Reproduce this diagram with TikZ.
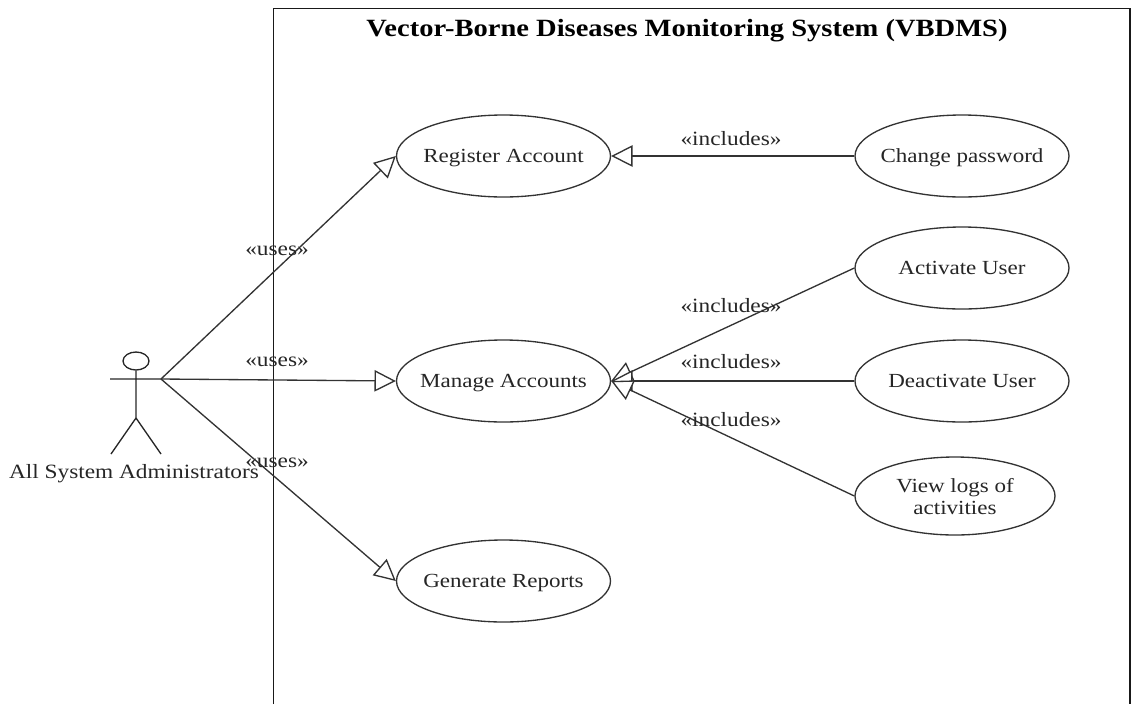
\documentclass[tikz,border=0pt]{standalone}
\usepackage{fontspec}
\setmainfont{Liberation Serif}[FakeStretch=1.15]
\usetikzlibrary{arrows.meta,positioning,shapes.geometric}
\tikzset{
    usecase/.style = {ellipse,
                    fill=white,
                    draw=black!80,
                    text=black!85,
                    line width=1pt,
                    minimum width=160.5pt,
                    minimum height=61.5pt,
                    inner xsep=-25pt,
                    inner ysep=0pt,
                    text depth=0pt,
                    align=center,
                    font=\fontsize{15}{16.5}\selectfont},
    stereo/.style = {text=black!85,
                    inner sep=0pt,
                    font=\fontsize{15.2}{17}\selectfont},
    actorline/.style = {draw=black!85,line width=1pt},
    gen/.style = {draw=black!80,line width=1pt,-{Triangle[open,fill=white,length=16pt,width=16pt]}},
    node distance=2cm}

\begin{document}
\begin{tikzpicture}[x=0.75pt,y=-0.75pt]
    \useasboundingbox (0,0) rectangle (1132,704);

    % system boundary
    \coordinate (tl) at (273.5,8.5);
    \coordinate (tr) at (1130,8.5);
    \coordinate (bl) at (273.5,704);
    \coordinate (br) at (1130,704);
    \draw [line width=1pt,black!90] (bl) -- (tl) -- (tr) -- (br);
    \node (title) at (687,31) {\fontsize{18.6}{20}\selectfont\bfseries Vector-Borne Diseases Monitoring System (VBDMS)};

    % use cases
    \node[usecase] (reg) at (503.5,156) {Register Account};
    \node[usecase] (man) [below of=reg,node distance=168.75pt] {Manage Accounts};
    \node[usecase] (rep) [below of=man,node distance=150pt] {Generate Reports};
    \node[usecase] (chg) at (962,156) {Change password};
    \node[usecase] (act) [below of=chg,node distance=84pt] {Activate User};
    \node[usecase] (dea) [below of=act,node distance=84.75pt] {Deactivate User};
    \node[usecase,minimum width=150pt,minimum height=58.5pt] (log) at (955,496) {View logs of\\activities};

    % actor
    \coordinate (hand) at (161,379);
    \coordinate (handl) at (110,379);
    \coordinate (hip) at (136,418);
    \coordinate (footl) at (111,454);
    \coordinate (footr) at (161,454);
    \node[ellipse,draw=black!85,line width=1pt,minimum width=19.5pt,minimum height=13.5pt,inner sep=0pt] (head) at (136,361) {};
    \draw [actorline] (head) -- (hip) (handl) -- (hand) (footl) -- (hip) -- (footr);
    \node[font=\fontsize{15.2}{17}\selectfont,text=black!85,inner sep=0pt] (admin) at (134,474) {All System Administrators};

    \path (hand) edge [gen] (reg.west)
          (hand) edge [gen] (man.west)
          (hand) edge [gen] (rep.west)
          (chg.west) edge [gen] (reg.east)
          (act.west) edge [gen] (man.east)
          (dea.west) edge [gen] (man.east)
          (log.west) edge [gen] (man.east);

    \node[stereo] (u1) at (277,251) {«uses»};
    \node[stereo] (u2) at (277,362) {«uses»};
    \node[stereo] (u3) at (277,463) {«uses»};
    \node[stereo] (i1) at (731,139) {«includes»};
    \node[stereo] (i2) at (731,306) {«includes»};
    \node[stereo] (i3) at (731,362) {«includes»};
    \node[stereo] (i4) at (731,420) {«includes»};
\end{tikzpicture}
\end{document}
